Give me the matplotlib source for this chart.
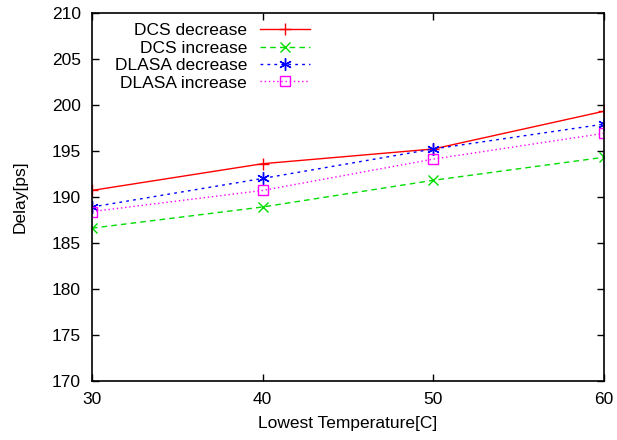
import matplotlib
matplotlib.use("Agg")
import matplotlib.pyplot as plt

plt.rcParams['font.family'] = ['Liberation Sans', 'DejaVu Sans']

temperature = [30, 40, 50, 60]
dcs_decrease = [190.7, 193.6, 195.2, 199.3]
dcs_increase = [186.6, 188.9, 191.8, 194.3]
dlasa_decrease = [188.9, 192.0, 195.2, 197.9]
dlasa_increase = [188.4, 190.7, 194.1, 196.9]

fig = plt.figure(figsize=(6.17, 4.40), dpi=100)
ax = fig.add_axes([0.1491, 0.1341, 0.8298, 0.837])

ax.plot(temperature, dcs_decrease, color='#ff0000', lw=1.0, ls='-',
        marker='+', ms=9, mew=1.0, label='DCS decrease')
ax.plot(temperature, dcs_increase, color='#00dd00', lw=1.0, ls=(0, (4, 3)),
        marker='x', ms=7, mew=1.0, label='DCS increase')
ax.plot(temperature, dlasa_decrease, color='#0000ff', lw=1.0, ls=(0, (2, 3)),
        marker=(6, 2, 0), ms=9, mew=1.0, label='DLASA decrease')
ax.plot(temperature, dlasa_increase, color='#ff00ff', lw=1.0, ls=(0, (1, 2)),
        marker='s', ms=7, mew=1.0, mfc='none', label='DLASA increase')

ax.set_xlim(30, 60)
ax.set_ylim(170, 210)
ax.set_xticks([30, 40, 50, 60])
ax.set_yticks(range(170, 211, 5))
ax.tick_params(direction='in', top=True, right=True, length=5, width=1,
               labelsize=12.5, pad=8)
for s in ax.spines.values():
    s.set_linewidth(1.2)

ax.set_xlabel('Lowest Temperature[C]', fontsize=12.5, labelpad=6.5)
ax.set_ylabel('Delay[ps]', fontsize=12.5, labelpad=17)

ax.legend(loc='upper right', bbox_to_anchor=(0.447, 1.0), frameon=False,
          markerfirst=False, fontsize=12.5, handlelength=2.9,
          handletextpad=0.75, labelspacing=0.13, borderaxespad=0.2)

fig.savefig('out.png', dpi=100)
